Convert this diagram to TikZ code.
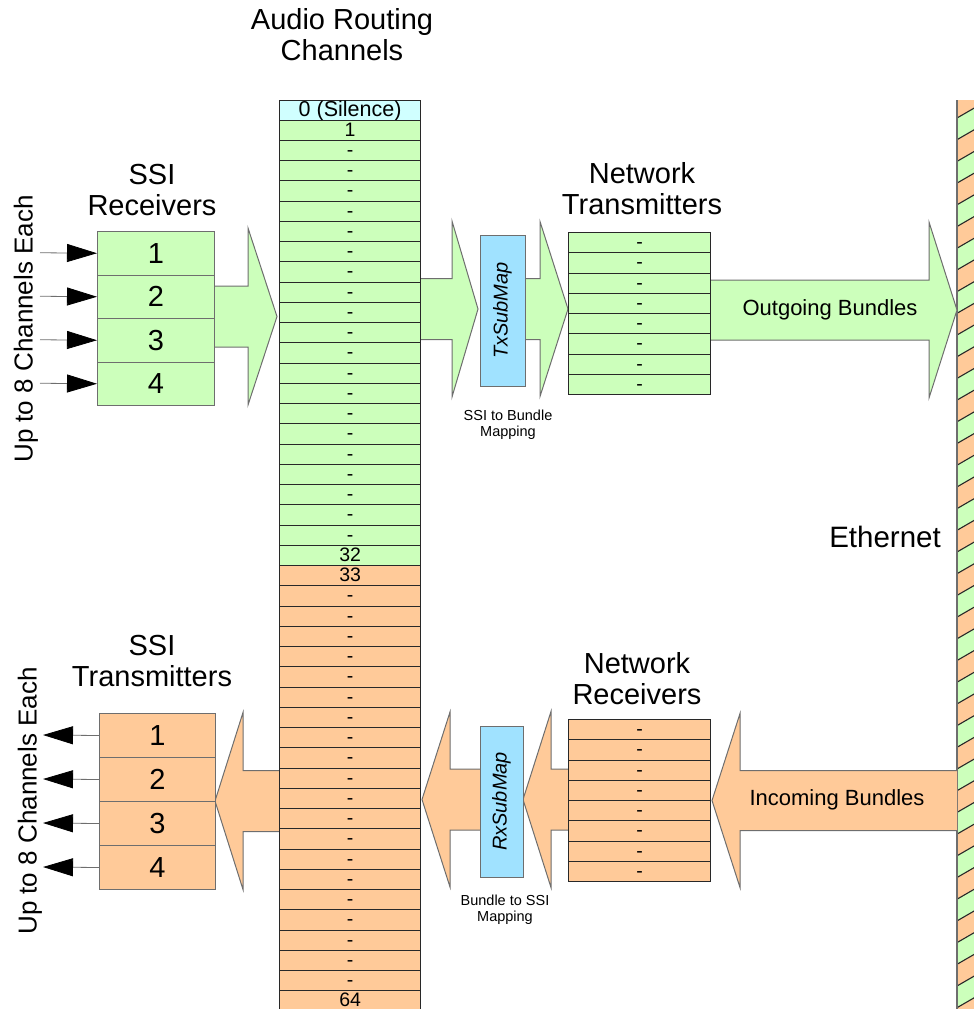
\documentclass[tikz,border=0pt]{standalone}
\usepackage{fontspec}
\setmainfont{Liberation Sans}
\usetikzlibrary{arrows.meta}
\definecolor{cgreen}{RGB}{204,255,187}
\definecolor{corange}{RGB}{255,202,153}
\definecolor{ccyan}{RGB}{208,255,255}
\definecolor{cblue}{RGB}{160,226,255}
\definecolor{cline}{RGB}{40,40,40}
\definecolor{cgray}{RGB}{110,110,110}
\newcommand{\blockarr}[7]{%
 \fill[#1] (#2,#5-#6) -- (#3,#5-#6) -- (#3,#5-#7) -- (#4,#5) -- (#3,#5+#7) -- (#3,#5+#6) -- (#2,#5+#6) -- cycle;
 \draw[arrowedge] (#2,#5-#6) -- (#3,#5-#6) -- (#3,#5-#7) -- (#4,#5) -- (#3,#5+#7) -- (#3,#5+#6) -- (#2,#5+#6);}
\begin{document}
\begin{tikzpicture}[x=1pt,y=-1pt,
  arrowedge/.style={draw=cgray,line width=1pt,line join=miter},
  cell/.style={draw=cline,line width=1.2pt,minimum width=141pt,minimum height=20.25pt,inner sep=0pt,text height=14pt,text depth=2pt,anchor=north west,font=\fontsize{19.5}{19.5}\selectfont},
  ntcell/.style={cell,minimum width=142pt},
  ssibox/.style={draw=cgray,line width=1pt,minimum width=117pt,minimum height=43.5pt,inner sep=0pt,anchor=north west,font=\fontsize{29}{29}\selectfont},
  title/.style={align=center,font=\fontsize{29}{31}\selectfont},
  small/.style={align=center,font=\fontsize{14.5}{16}\selectfont},
  submap/.style={draw=cgray,line width=1pt,fill=cblue,rotate=90,inner sep=0pt,font=\fontsize{20}{20}\selectfont\itshape},
  inarrow/.style={draw=cgray,line width=0.8pt,-{Triangle[length=30pt,width=18pt,color=black]}},
  blabel/.style={font=\fontsize{22}{22}\selectfont}
]
\useasboundingbox (0,0) rectangle (974,1009);
\begin{scope}
\clip (0,0) rectangle (974,1009);

% Ethernet bar
\begin{scope}
\clip (957,100) rectangle (985,1012);
\foreach \k in {-1,...,42} {
  \pgfmathsetmacro\ya{118+21.7*\k}
  \pgfmathsetmacro\yb{\ya+21.7}
  \ifodd\k \def\bandcol{corange}\else\def\bandcol{cgreen}\fi
  \fill[\bandcol] (957,\ya) -- (985,\ya-16.2) -- (985,\yb-16.2) -- (957,\yb) -- cycle;
  \draw[cline,line width=1.1pt] (957,\ya) -- (985,\ya-16.2);
}
\end{scope}
\draw[cgray,line width=1.3pt] (957,100) -- (957,1012);

% block arrows
\blockarr{cgreen}{214}{248}{277}{316.5}{30.5}{88.5}
\blockarr{cgreen}{420}{452}{478}{309}{30.5}{88}
\blockarr{cgreen}{525}{540}{568}{309}{30.5}{87.5}
\blockarr{cgreen}{710}{929}{957}{310}{30}{88}
\blockarr{corange}{279}{243}{215}{801}{30.5}{88.5}
\blockarr{corange}{480}{450}{422}{799.5}{30.5}{87.5}
\blockarr{corange}{568}{551}{523}{799.5}{30.5}{88}
\blockarr{corange}{957}{740}{712}{800.5}{30}{87}
\node[blabel] (outlbl) at (830,310) {Outgoing Bundles};
\node[blabel] (inlbl) at (837,800) {Incoming Bundles};

% audio routing column
\node[cell,fill=ccyan,minimum height=19.5pt,font=\fontsize{21.5}{21.5}\selectfont] (c0) at (279,100) {0 (Silence)};
\foreach \i in {1,...,22} {
  \node[cell,fill=cgreen] (g\i) at (279,{119.5+20.25*(\i-1)}) {\ifnum\i=1 1\else\ifnum\i=22 32\else -\fi\fi};
}
\foreach \i in {1,...,22} {
  \node[cell,fill=corange] (o\i) at (279,{565+20.25*(\i-1)}) {\ifnum\i=1 33\else\ifnum\i=22 64\else -\fi\fi};
}

% SSI receivers
\foreach \i in {1,...,4} {
  \node[ssibox,fill=cgreen] (r\i) at (97,{231+43.5*(\i-1)}) {\i};
  \coordinate (in\i) at (40,{231+43.5*(\i-0.5)});
  \draw[inarrow] (in\i) -- (r\i.west);
}
% SSI transmitters
\foreach \i in {1,...,4} {
  \node[ssibox,fill=corange,minimum width=116pt,minimum height=44pt] (t\i) at (99,{713+44*(\i-1)}) {\i};
  \coordinate (out\i) at (43,{713+44*(\i-0.5)});
  \draw[inarrow] (t\i.west) -- (out\i);
}

% network transmitters / receivers
\foreach \i in {1,...,8} {
  \node[ntcell,fill=cgreen] (nt\i) at (568,{232+20.25*(\i-1)}) {-};
  \node[ntcell,fill=corange] (nr\i) at (568,{719+20.25*(\i-1)}) {-};
}

% sub maps
\node[submap,minimum width=151pt,minimum height=45pt] (tx) at (502.5,310.5) {TxSubMap};
\node[submap,minimum width=151pt,minimum height=43pt] (rx) at (501.5,801.5) {RxSubMap};

% titles
\node[title] (tArc) at (342,35) {Audio Routing\\Channels};
\node[title] (tSr) at (152,190) {SSI\\Receivers};
\node[title] (tNt) at (642,189) {Network\\Transmitters};
\node[title] (tSt) at (152,661) {SSI\\Transmitters};
\node[title] (tNr) at (637,679) {Network\\Receivers};
\node[font=\fontsize{29.5}{29.5}\selectfont] (eth) at (885,537) {Ethernet};
\node[small] (m1) at (508,425) {SSI to Bundle\\Mapping};
\node[small] (m2) at (505,910) {Bundle to SSI\\Mapping};
\node[rotate=90,font=\fontsize{26}{26}\selectfont] (up1) at (26,329) {Up to 8 Channels Each};
\node[rotate=90,font=\fontsize{26}{26}\selectfont] (up2) at (30,801) {Up to 8 Channels Each};
\end{scope}
\end{tikzpicture}
\end{document}
